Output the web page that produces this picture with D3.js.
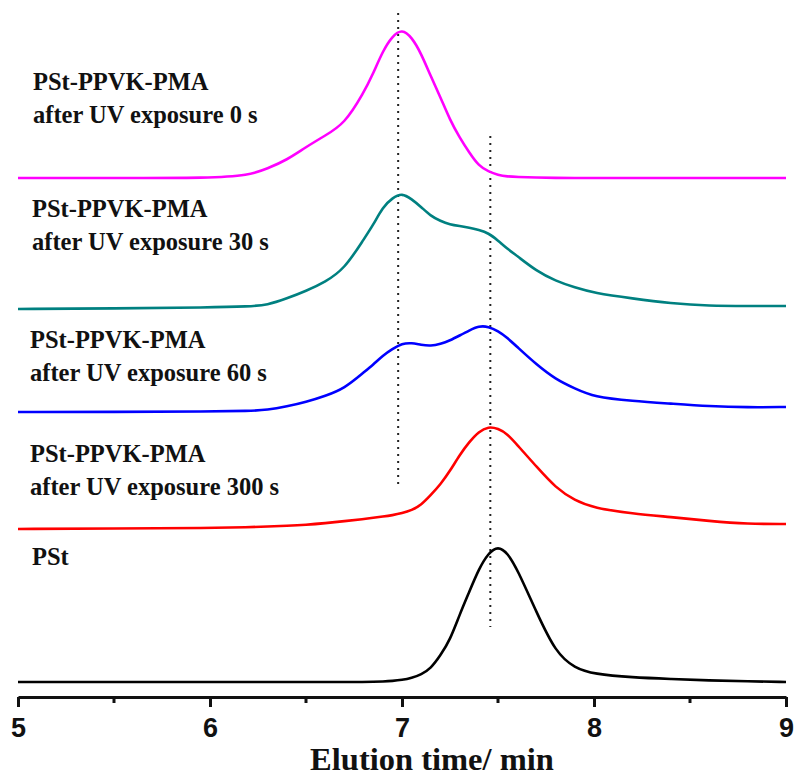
<!DOCTYPE html>
<html>
<head>
<meta charset="utf-8">
<script src="https://cdn.jsdelivr.net/npm/d3@7/dist/d3.min.js"></script>
<style>
  body { margin: 0; background: #fff; }
  svg { display: block; }
  .trace { fill: none; stroke-width: 2.6; stroke-linejoin: round; }
  .ref-line { stroke: #222; stroke-width: 2; stroke-dasharray: 2 5; }
  .label { font-family: "Liberation Serif", "Times New Roman", serif; font-weight: bold; font-size: 24.5px; fill: #111; }
  .axis-title { font-family: "Liberation Serif", "Times New Roman", serif; font-weight: bold; font-size: 32.5px; fill: #111; }
  .x-axis text { font-family: "Liberation Sans", Arial, sans-serif; font-weight: bold; font-size: 27px; fill: #111; }
  .x-axis path, .x-axis line { stroke: #111; stroke-width: 3; }
</style>
</head>
<body>
<svg id="chart"></svg>
<script>
// --------------------------------------------------
// GPC traces, stacked (elution time vs. detector signal)
// --------------------------------------------------

// elution time grid (min)
const times = [5.0, 5.5, 6.0, 6.2, 6.3, 6.4, 6.5, 6.6, 6.7, 6.8, 6.85, 6.9, 6.95, 7.0, 7.05, 7.1, 7.15,
  7.2, 7.25, 7.3, 7.35, 7.4, 7.45, 7.5, 7.55, 7.6, 7.7, 7.8, 7.9, 8.0, 8.2, 8.4, 8.6, 8.8, 9.0];

// signal (a.u.) above each trace's own baseline
const uv0 = [0, 0, 0, 2.5, 9.5, 18, 31, 42.5, 54, 85, 104.5, 127, 142, 149, 141, 124.5, 101.5,
  81, 58, 40.5, 25.5, 12, 6.5, 3, 1.5, 1, 0.5, 0, 0, 0, 0, 0, 0, 0, 0];
const uv30 = [0, 0.5, 1.5, 2.5, 4, 10.5, 18, 27, 40, 69.5, 84, 102, 111, 116, 110, 102, 93,
  88, 84.5, 83, 81.5, 79, 76, 68.5, 60, 53, 38, 28, 21.5, 16, 10.5, 5.7, 3.1, 3, 3];
const uv60 = [0, 0, 0.5, 1, 2, 5.5, 10, 16, 23.5, 39.5, 47.4, 56.4, 63, 68.5, 69.2, 67, 66,
  68, 71.5, 76.5, 81.5, 86, 85.5, 81, 74, 65, 47.5, 32.7, 23.5, 15, 11, 8.4, 5.7, 4.6, 5];
const uv300 = [0, 0.5, 1, 1.8, 2.4, 3.2, 4.2, 5.8, 7.8, 10, 11.2, 12.4, 13.8, 15.8, 18.7, 24, 34,
  44.5, 58, 74, 87, 97.5, 102.5, 100.5, 95, 84, 62.5, 41.2, 28.5, 21, 15.5, 12, 8, 5, 5];
const pst = [0, 0, 0, 0, 0, 0, 0, 0, 0, 0, 0.2, 0.5, 1, 2, 4, 7.5, 13.5,
  26.5, 42, 67.3, 90, 113, 129, 136, 129, 113, 70, 29.5, 13.8, 8, 4.5, 3, 1.5, 0.7, 0];

// vertical offset of each trace (a.u.)
const offsets = [519, 388, 285, 168, 15];
const seriesNames = ["0 s", "30 s", "60 s", "300 s", "PSt"];
const seriesValues = [uv0, uv30, uv60, uv300, pst];

// text labels for each trace
const labelLines = [
  ["PSt-PPVK-PMA", "after UV exposure 0 s"],
  ["PSt-PPVK-PMA", "after UV exposure 30 s"],
  ["PSt-PPVK-PMA", "after UV exposure 60 s"],
  ["PSt-PPVK-PMA", "after UV exposure 300 s"],
  ["PSt"]
];

// dotted guide lines: time and vertical extent (a.u.)
const refTimes = [6.98, 7.46];
const refFrom = [209, 70];
const refTo = [684, 561];

const majorTicks = [5, 6, 7, 8, 9];
const minorTicks = [5.5, 6.5, 7.5, 8.5];

// --------------------------------------------------
const CONFIG = {
  width: 794,
  height: 777,
  colors: ["#ff00ff", "#008080", "#0000ff", "#ff0000", "#000000"],
  labelX: [33, 32, 30, 30, 32],
  labelY: [90, 217, 348, 462, 565],
  lineGap: 33
};

const svg = d3.select("#chart")
  .attr("width", CONFIG.width)
  .attr("height", CONFIG.height);

const x = d3.scaleLinear().domain([5, 9]).range([18, 786]);
const y = d3.scaleLinear().domain([0, 680]).range([697, 17]);

// dotted guides (drawn first, traces go over them)
svg.append("g").selectAll("line")
  .data(refTimes)
  .enter()
  .append("line")
  .attr("class", "ref-line")
  .attr("x1", d => x(d))
  .attr("x2", d => x(d))
  .attr("y1", (d, i) => y(refTo[i]))
  .attr("y2", (d, i) => y(refFrom[i]));

// traces
const line = d3.line()
  .x(d => x(d[0]))
  .y(d => y(d[1]))
  .curve(d3.curveBasis);

svg.append("g").selectAll("path")
  .data(seriesValues)
  .enter()
  .append("path")
  .attr("class", "trace")
  .attr("data-name", (d, i) => seriesNames[i])
  .attr("stroke", (d, i) => CONFIG.colors[i])
  .attr("d", (vals, i) => line(times.map((t, k) => [t, vals[k] + offsets[i]])));

// labels
const labels = svg.append("g").selectAll("text")
  .data(labelLines)
  .enter()
  .append("text")
  .attr("class", "label")
  .attr("x", (d, i) => CONFIG.labelX[i])
  .attr("y", (d, i) => CONFIG.labelY[i]);

labels.selectAll("tspan")
  .data(d => d)
  .enter()
  .append("tspan")
  .attr("x", function () { return this.parentNode.getAttribute("x"); })
  .attr("dy", (d, j) => j === 0 ? 0 : CONFIG.lineGap)
  .text(d => d);

// x axis
const xAxis = svg.append("g")
  .attr("class", "x-axis")
  .attr("transform", `translate(0,${y(0)})`)
  .call(d3.axisBottom(x).tickValues(majorTicks).tickSize(10).tickSizeOuter(0).tickFormat(d3.format("d")));

xAxis.selectAll("text").attr("y", 40).attr("dy", 0);

xAxis.selectAll(".minor")
  .data(minorTicks)
  .enter()
  .append("line")
  .attr("class", "minor")
  .attr("x1", d => x(d))
  .attr("x2", d => x(d))
  .attr("y1", 0)
  .attr("y2", 6);

svg.append("text")
  .attr("class", "axis-title")
  .attr("x", 432)
  .attr("y", 770)
  .attr("text-anchor", "middle")
  .text("Elution time/ min");
</script>
</body>
</html>
